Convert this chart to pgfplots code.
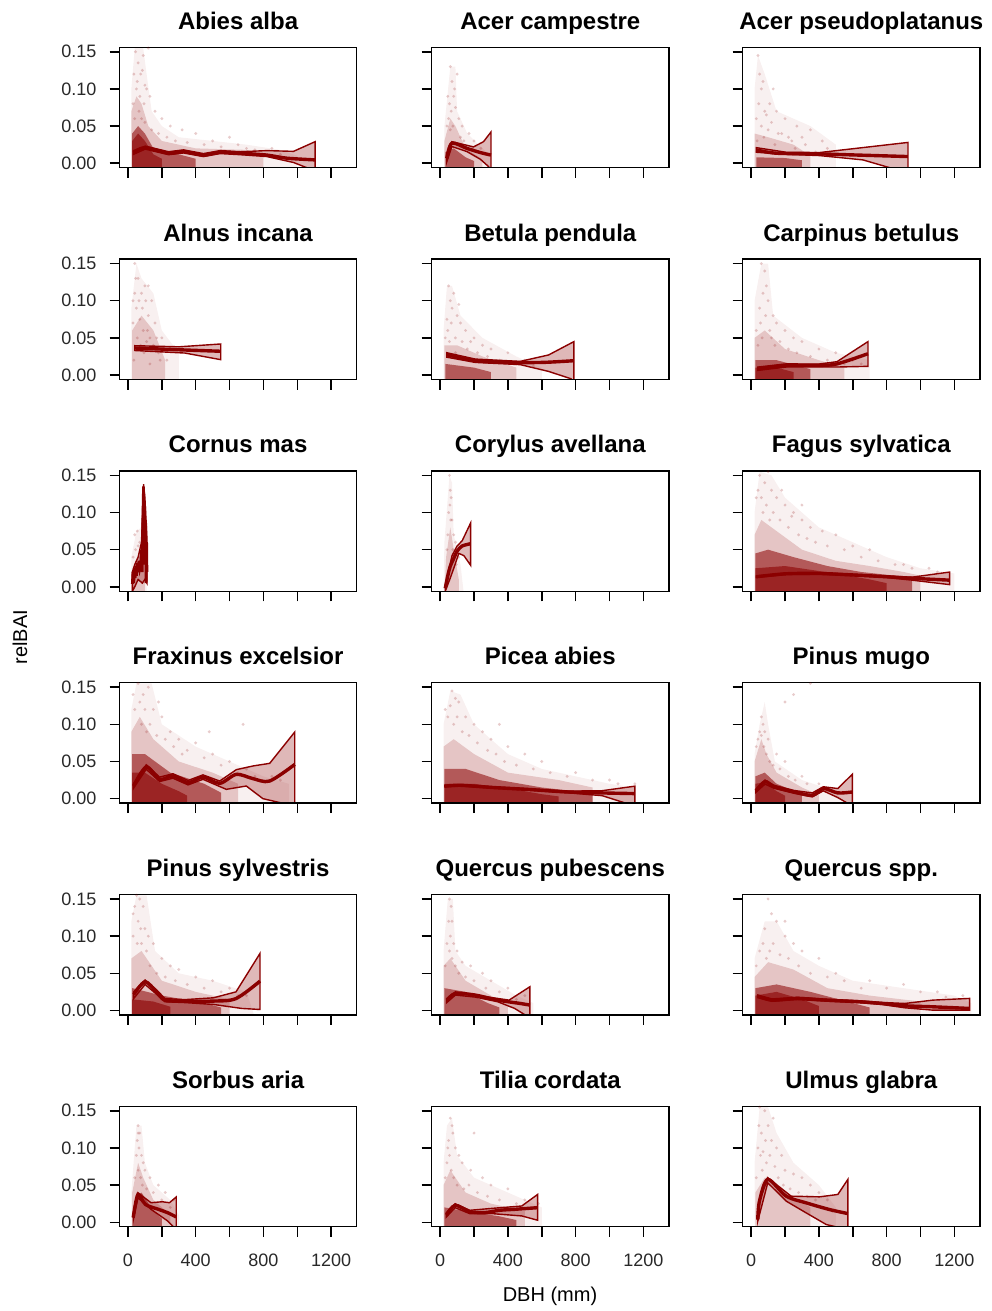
\documentclass[border=0pt]{standalone}
\usepackage{fontspec}
\setmainfont{Liberation Sans}
\usepackage{pgfplots}
\pgfplotsset{compat=1.18}
\definecolor{dred}{RGB}{139,0,0}
\definecolor{tickgray}{RGB}{40,40,40}

\pgfplotsset{
  panel/.style={
    scale only axis, width=118.6pt, height=60.2pt, anchor=south west,
    xmin=-50, xmax=1351, ymin=-0.006, ymax=0.156,
    tick pos=left, tick align=outside, major tick length=5pt,
    xtick={0,200,...,1200}, ytick={0,0.05,0.1,0.15},
    xticklabels={}, yticklabels={},
    axis line style={line width=0.75pt},
    every tick/.style={black, line width=0.75pt},
    tick label style={font=\fontsize{9}{10}\selectfont, text=tickgray},
    yticklabel style={xshift=-3pt},
    xticklabel style={yshift=-5pt},
    title style={font=\bfseries\fontsize{12}{13}\selectfont, at={(0.5,1)}, anchor=base, yshift=3pt},
    axis on top,
  },
  ylab/.style={yticklabels={0.00,0.05,0.10,0.15}},
  xlab/.style={xticklabels={0,,400,,800,,1200}},
  cloudA/.style={draw=none, fill=dred, fill opacity=0.06},
  cloudB/.style={draw=none, fill=dred, fill opacity=0.18},
  cloudC/.style={draw=none, fill=dred, fill opacity=0.55},
  cloudD/.style={draw=none, fill=dred, fill opacity=0.6},
  pts/.style={only marks, mark=*, mark size=0.8pt, color=dred, mark options={draw opacity=0, fill=dred, fill opacity=0.2}},
  band/.style={draw=dred, line width=0.7pt, fill=dred, fill opacity=0.28},
  mean/.style={draw=dred, line width=1.7pt, smooth},
}

\newcommand{\panel}[5]{%
  \begin{axis}[panel, at={(#1pt,#2pt)}, title={#3}, #4]
  #5
  \end{axis}}

\begin{document}
\begin{tikzpicture}
\useasboundingbox (0,0) rectangle (495.5pt,-655.5pt);

% row 1
\panel{59.75}{-83.85}{Abies alba}{ylab}{
  \addplot[cloudA] coordinates {(20,-0.01)(20,0.10)(40,0.155)(90,0.155)(110,0.12)(140,0.07)(200,0.05)(300,0.035)(500,0.03)(700,0.025)(900,0.018)(1000,0.01)(1000,-0.01)} -- cycle;
  \addplot[cloudB] coordinates {(20,-0.01)(20,0.07)(50,0.09)(80,0.08)(120,0.05)(200,0.03)(400,0.02)(700,0.018)(800,0.01)(800,-0.01)} -- cycle;
  \addplot[cloudC] coordinates {(25,-0.01)(25,0.04)(60,0.05)(100,0.04)(150,0.02)(300,0.012)(400,0.006)(400,-0.01)} -- cycle;
  \addplot[cloudD] coordinates {(25,-0.01)(25,0.03)(60,0.04)(100,0.03)(150,0.012)(200,0.006)(200,-0.01)} -- cycle;
  \addplot[pts] coordinates {(45,0.15)(60,0.135)(75,0.12)(90,0.145)(110,0.1)(130,0.09)(55,0.11)(160,0.07)(200,0.06)(250,0.05)(320,0.045)(400,0.04)(500,0.03)(600,0.035)(700,0.02)(850,0.02)(120,0.155)(85,0.125)
    (30,0.08)(40,0.06)(50,0.1)(65,0.07)(70,0.09)(80,0.06)(95,0.08)(100,0.055)(140,0.045)(180,0.04)(230,0.035)(280,0.03)(350,0.028)(450,0.025)(550,0.022)(650,0.025)(750,0.018)(900,0.012)(35,0.12)(100,0.105)};
  \addplot[band] coordinates {(33,0.017)(102,0.023)(240,0.0155)(328,0.018)(446,0.013)(545,0.017)(663,0.0155)(820,0.017)(978,0.016)(1105,0.029)(1105,-0.01)(1056,-0.006)(978,0.001)(820,0.009)(663,0.0115)(545,0.013)(446,0.009)(328,0.0138)(240,0.0115)(102,0.019)(33,0.012)} -- cycle;
  \addplot[mean] coordinates {(33,0.0144)(102,0.021)(240,0.0135)(328,0.0158)(446,0.011)(545,0.015)(663,0.0135)(820,0.011)(938,0.0068)(1105,0.0045)};
}
\panel{215.85}{-83.85}{Acer campestre}{}{
  \addplot[cloudA] coordinates {(25,-0.01)(25,0.05)(60,0.13)(90,0.13)(100,0.07)(160,0.04)(250,0.02)(300,0.01)(300,-0.01)} -- cycle;
  \addplot[cloudB] coordinates {(25,-0.01)(25,0.03)(60,0.06)(90,0.05)(150,0.02)(250,0.005)(250,-0.01)} -- cycle;
  \addplot[cloudC] coordinates {(30,-0.01)(30,0.015)(80,0.02)(150,0.008)(200,0.003)(200,-0.01)} -- cycle;
  \addplot[pts] coordinates {(60,0.13)(70,0.11)(80,0.09)(55,0.08)(90,0.075)(110,0.06)(130,0.05)(170,0.04)(200,0.03)(240,0.02)(100,0.12)
    (40,0.05)(50,0.06)(65,0.07)(75,0.05)(85,0.1)(45,0.09)(120,0.035)(140,0.03)(190,0.02)(60,0.045)};
  \addplot[band] coordinates {(39,0.009)(69,0.029)(197,0.022)(256,0.029)(300,0.042)(300,-0.01)(286,-0.0045)(237,0.0054)(158,0.0157)(69,0.0225)(39,0.002)} -- cycle;
  \addplot[mean] coordinates {(39,0.0067)(69,0.027)(158,0.020)(237,0.0144)(300,0.011)};
}
\panel{371.35}{-83.85}{Acer pseudoplatanus}{}{
  \addplot[cloudA] coordinates {(20,-0.01)(20,0.10)(40,0.145)(80,0.12)(150,0.07)(350,0.05)(500,0.025)(500,-0.01)} -- cycle;
  \addplot[cloudB] coordinates {(20,-0.01)(20,0.04)(100,0.035)(250,0.025)(350,0.01)(350,-0.01)} -- cycle;
  \addplot[cloudC] coordinates {(30,-0.01)(30,0.008)(200,0.007)(300,0.004)(300,-0.01)} -- cycle;
  \addplot[pts] coordinates {(40,0.145)(50,0.12)(70,0.11)(110,0.08)(150,0.07)(60,0.1)(200,0.06)(270,0.05)(350,0.045)(130,0.1)(90,0.065)(420,0.03)(300,0.035)(180,0.04)(240,0.03)
    (30,0.06)(45,0.08)(60,0.05)(80,0.07)(100,0.045)(120,0.055)(160,0.04)(220,0.035)(260,0.02)(320,0.025)(380,0.015)(450,0.02)(35,0.03)(75,0.035)(140,0.025)};
  \addplot[band] coordinates {(30,0.021)(207,0.0148)(404,0.0144)(926,0.028)(926,-0.01)(818,-0.006)(660,0.0045)(404,0.0103)(207,0.012)(30,0.0148)} -- cycle;
  \addplot[mean] coordinates {(30,0.018)(148,0.0135)(404,0.0126)(601,0.0112)(926,0.009)};
}

% row 2
\panel{59.75}{-189.75}{Alnus incana}{ylab}{
  \addplot[cloudA] coordinates {(20,-0.01)(20,0.09)(50,0.15)(80,0.13)(150,0.11)(200,0.06)(300,0.03)(300,-0.01)} -- cycle;
  \addplot[cloudB] coordinates {(25,-0.01)(25,0.06)(80,0.08)(150,0.06)(220,0.02)(220,-0.01)} -- cycle;
  \addplot[pts] coordinates {(40,0.15)(60,0.13)(80,0.11)(100,0.12)(50,0.09)(120,0.08)(140,0.1)(160,0.07)(90,0.06)(200,0.05)(70,0.075)(110,0.045)(30,0.07)(180,0.03)(230,0.02)
    (30,0.1)(40,0.11)(55,0.05)(65,0.1)(75,0.04)(85,0.09)(95,0.03)(105,0.1)(115,0.06)(130,0.05)(150,0.04)(170,0.05)(190,0.02)(210,0.035)(45,0.13)(120,0.12)(35,0.02)(130,0.015)};
  \addplot[band] coordinates {(40,0.0395)(302,0.038)(548,0.0418)(548,0.0207)(336,0.0296)(40,0.033)} -- cycle;
  \addplot[mean] coordinates {(40,0.0364)(302,0.034)(548,0.032)};
}
\panel{215.85}{-189.75}{Betula pendula}{}{
  \addplot[cloudA] coordinates {(20,-0.01)(20,0.06)(40,0.12)(70,0.12)(120,0.08)(250,0.05)(450,0.025)(600,0.01)(600,-0.01)} -- cycle;
  \addplot[cloudB] coordinates {(25,-0.01)(25,0.04)(100,0.04)(250,0.025)(450,0.01)(450,-0.01)} -- cycle;
  \addplot[cloudC] coordinates {(30,-0.01)(30,0.015)(200,0.01)(300,0.004)(300,-0.01)} -- cycle;
  \addplot[pts] coordinates {(50,0.12)(60,0.1)(80,0.11)(100,0.08)(120,0.07)(150,0.06)(200,0.05)(250,0.04)(300,0.035)(400,0.03)(500,0.02)(70,0.09)(40,0.075)(180,0.045)
    (30,0.05)(45,0.06)(55,0.045)(65,0.07)(90,0.05)(110,0.095)(130,0.045)(160,0.035)(220,0.03)(280,0.025)(350,0.02)(450,0.015)(550,0.012)(90,0.03)};
  \addplot[band] coordinates {(40,0.030)(207,0.0215)(473,0.0184)(640,0.027)(790,0.045)(790,-0.01)(773,-0.005)(640,0.0049)(473,0.014)(207,0.017)(40,0.024)} -- cycle;
  \addplot[mean] coordinates {(40,0.0274)(207,0.0193)(406,0.017)(606,0.017)(790,0.0193)};
}
\panel{371.35}{-189.75}{Carpinus betulus}{}{
  \addplot[cloudA] coordinates {(20,-0.01)(20,0.10)(60,0.15)(100,0.15)(130,0.08)(300,0.05)(500,0.03)(700,0.02)(700,-0.01)} -- cycle;
  \addplot[cloudB] coordinates {(20,-0.01)(20,0.05)(80,0.06)(200,0.035)(400,0.02)(550,0.01)(550,-0.01)} -- cycle;
  \addplot[cloudC] coordinates {(25,-0.01)(25,0.02)(150,0.02)(350,0.008)(350,-0.01)} -- cycle;
  \addplot[cloudD] coordinates {(25,-0.01)(25,0.01)(150,0.01)(250,0.004)(250,-0.01)} -- cycle;
  \addplot[pts] coordinates {(60,0.15)(80,0.14)(90,0.12)(70,0.11)(100,0.1)(130,0.08)(150,0.07)(200,0.06)(250,0.05)(300,0.045)(400,0.035)(500,0.03)(600,0.02)(50,0.09)
    (30,0.06)(40,0.04)(55,0.07)(65,0.05)(85,0.08)(110,0.06)(120,0.05)(140,0.04)(170,0.045)(220,0.035)(270,0.03)(350,0.025)(450,0.02)(550,0.015)(650,0.015)};
  \addplot[band] coordinates {(40,0.0108)(207,0.015)(400,0.0148)(507,0.018)(690,0.045)(690,0.0117)(507,0.0108)(400,0.0108)(207,0.0108)(40,0.0063)} -- cycle;
  \addplot[mean] coordinates {(40,0.008)(207,0.013)(400,0.013)(507,0.015)(690,0.0287)};
}

% row 3
\panel{59.75}{-295.65}{Cornus mas}{ylab}{
  \addplot[cloudA] coordinates {(20,-0.01)(20,0.04)(50,0.075)(80,0.08)(110,0.06)(110,-0.01)} -- cycle;
  \addplot[cloudB] coordinates {(22,-0.01)(22,0.02)(60,0.04)(100,0.04)(100,-0.01)} -- cycle;
  \addplot[pts] coordinates {(40,0.07)(55,0.075)(70,0.06)(85,0.08)(30,0.04)(100,0.05)(45,0.05)(60,0.055)(75,0.045)};
  \addplot[band] coordinates {(26,0.02)(40,0.03)(60,0.04)(80,0.06)(92,0.138)(100,0.12)(112,0.065)(112,0.005)(100,0.01)(85,0.005)(60,0.01)(40,0.0)(26,-0.006)} -- cycle;
  \addplot[draw=dred, line width=1.4pt] coordinates {(26,0.004)(30,0.02)(34,0.005)(38,0.025)(42,0.012)(46,0.028)(50,0.015)(55,0.032)(60,0.02)(65,0.035)(70,0.025)(75,0.03)(80,0.05)(84,0.02)(88,0.09)(92,0.135)(95,0.06)(98,0.115)(101,0.03)(104,0.09)(107,0.005)(110,0.06)(112,0.02)};
}
\panel{215.85}{-295.65}{Corylus avellana}{}{
  \addplot[cloudA] coordinates {(20,-0.01)(25,0.06)(55,0.15)(70,0.14)(80,0.07)(120,0.03)(140,-0.01)} -- cycle;
  \addplot[cloudB] coordinates {(25,-0.01)(35,0.04)(60,0.08)(80,0.05)(110,0.01)(110,-0.01)} -- cycle;
  \addplot[pts] coordinates {(55,0.15)(60,0.13)(65,0.12)(50,0.1)(70,0.09)(80,0.07)(90,0.06)(110,0.04)(40,0.05)(45,0.07)(58,0.11)(62,0.09)(75,0.05)(95,0.03)};
  \addplot[band] coordinates {(30,0.002)(50,0.022)(70,0.042)(100,0.055)(130,0.062)(180,0.086)(180,0.029)(140,0.042)(110,0.045)(85,0.028)(60,0.012)(30,-0.006)} -- cycle;
  \addplot[mean] coordinates {(30,-0.002)(45,0.015)(60,0.028)(80,0.038)(100,0.048)(130,0.055)(180,0.058)};
}
\panel{371.35}{-295.65}{Fagus sylvatica}{}{
  \addplot[cloudA] coordinates {(20,-0.01)(20,0.10)(50,0.155)(120,0.15)(200,0.12)(400,0.08)(600,0.06)(800,0.04)(1000,0.025)(1200,0.018)(1200,-0.01)} -- cycle;
  \addplot[cloudB] coordinates {(20,-0.01)(20,0.07)(60,0.09)(150,0.075)(300,0.05)(500,0.035)(700,0.028)(900,0.02)(1000,0.015)(1000,-0.01)} -- cycle;
  \addplot[cloudC] coordinates {(25,-0.01)(25,0.045)(100,0.05)(250,0.04)(450,0.028)(650,0.02)(850,0.015)(950,0.008)(950,-0.01)} -- cycle;
  \addplot[cloudD] coordinates {(25,-0.01)(25,0.025)(200,0.028)(500,0.018)(700,0.01)(800,0.005)(800,-0.01)} -- cycle;
  \addplot[pts] coordinates {(50,0.15)(80,0.14)(120,0.13)(150,0.12)(200,0.11)(250,0.1)(300,0.09)(350,0.08)(420,0.075)(500,0.07)(600,0.055)(700,0.05)(900,0.03)(1050,0.025)(100,0.155)
    (30,0.12)(40,0.13)(60,0.12)(70,0.1)(90,0.11)(110,0.09)(130,0.1)(170,0.09)(220,0.08)(280,0.07)(330,0.065)(380,0.06)(450,0.055)(550,0.05)(650,0.04)(750,0.035)(850,0.03)(950,0.025)(1100,0.02)(180,0.13)(240,0.095)(300,0.11)};
  \addplot[band] coordinates {(30,0.0146)(207,0.0186)(404,0.019)(601,0.017)(798,0.0146)(950,0.013)(1172,0.0199)(1172,0.003)(950,0.009)(798,0.0126)(601,0.015)(404,0.017)(207,0.0166)(30,0.0126)} -- cycle;
  \addplot[mean] coordinates {(30,0.0136)(207,0.0176)(404,0.018)(601,0.016)(798,0.0136)(995,0.011)(1172,0.009)};
}

% row 4
\panel{59.75}{-401.55}{Fraxinus excelsior}{ylab}{
  \addplot[cloudA] coordinates {(20,-0.01)(20,0.12)(50,0.155)(140,0.155)(200,0.1)(400,0.07)(600,0.05)(800,0.03)(950,0.02)(950,-0.01)} -- cycle;
  \addplot[cloudB] coordinates {(20,-0.01)(20,0.09)(70,0.11)(150,0.08)(300,0.05)(500,0.035)(650,0.02)(650,-0.01)} -- cycle;
  \addplot[cloudC] coordinates {(25,-0.01)(25,0.06)(100,0.06)(250,0.035)(450,0.02)(550,0.008)(550,-0.01)} -- cycle;
  \addplot[cloudD] coordinates {(25,-0.01)(25,0.035)(100,0.035)(200,0.02)(300,0.01)(350,0.004)(350,-0.01)} -- cycle;
  \addplot[pts] coordinates {(60,0.155)(90,0.14)(120,0.15)(150,0.12)(200,0.11)(250,0.09)(300,0.08)(400,0.075)(500,0.06)(600,0.05)(680,0.1)(700,0.04)(850,0.03)(180,0.13)
    (30,0.14)(40,0.12)(70,0.13)(80,0.1)(100,0.12)(110,0.09)(130,0.1)(170,0.085)(220,0.08)(270,0.07)(320,0.06)(350,0.065)(450,0.055)(550,0.045)(650,0.035)(750,0.03)(900,0.025)(480,0.09)};
  \addplot[band] coordinates {(33,0.02)(108,0.0456)(187,0.029)(266,0.0335)(355,0.0245)(443,0.032)(542,0.0237)(640,0.039)(739,0.044)(837,0.0475)(985,0.0896)(985,-0.01)(797,0.0)(699,0.017)(581,0.0125)(443,0.026)(355,0.0185)(266,0.0275)(187,0.023)(108,0.0396)(33,0.014)} -- cycle;
  \addplot[mean] coordinates {(33,0.017)(108,0.0426)(187,0.026)(266,0.0305)(355,0.0215)(443,0.029)(542,0.0206)(640,0.0327)(739,0.0269)(837,0.0237)(985,0.046)};
}
\panel{215.85}{-401.55}{Picea abies}{}{
  \addplot[cloudA] coordinates {(20,-0.01)(20,0.10)(60,0.145)(120,0.14)(200,0.10)(400,0.06)(600,0.04)(800,0.03)(1000,0.02)(1150,0.015)(1150,-0.01)} -- cycle;
  \addplot[cloudB] coordinates {(20,-0.01)(20,0.07)(80,0.08)(200,0.06)(400,0.035)(700,0.025)(900,0.015)(900,-0.01)} -- cycle;
  \addplot[cloudC] coordinates {(25,-0.01)(25,0.04)(150,0.04)(350,0.025)(600,0.015)(800,0.01)(900,0.005)(900,-0.01)} -- cycle;
  \addplot[cloudD] coordinates {(25,-0.01)(25,0.02)(200,0.02)(450,0.012)(600,0.006)(700,0.003)(700,-0.01)} -- cycle;
  \addplot[pts] coordinates {(70,0.145)(90,0.135)(110,0.13)(150,0.11)(200,0.1)(250,0.09)(300,0.08)(400,0.07)(500,0.06)(600,0.05)(800,0.035)(1000,0.025)(1150,0.02)(350,0.1)
    (30,0.12)(45,0.11)(60,0.125)(80,0.1)(100,0.11)(130,0.09)(170,0.085)(220,0.075)(280,0.065)(330,0.06)(380,0.05)(450,0.045)(550,0.04)(650,0.035)(750,0.03)(900,0.025)(1050,0.02)};
  \addplot[band] coordinates {(28,0.0178)(118,0.019)(312,0.016)(527,0.0133)(742,0.0101)(957,0.0107)(1150,0.0168)(1150,-0.01)(957,0.004)(742,0.0081)(527,0.0113)(312,0.014)(118,0.017)(28,0.0158)} -- cycle;
  \addplot[mean] coordinates {(28,0.0168)(118,0.018)(312,0.015)(527,0.0123)(742,0.0091)(957,0.0077)(1150,0.0068)};
}
\panel{371.35}{-401.55}{Pinus mugo}{}{
  \addplot[cloudA] coordinates {(20,-0.01)(20,0.06)(50,0.1)(80,0.13)(100,0.1)(140,0.05)(300,0.025)(500,0.01)(550,-0.01)} -- cycle;
  \addplot[cloudB] coordinates {(20,-0.01)(20,0.05)(60,0.08)(90,0.06)(150,0.035)(300,0.015)(400,0.005)(400,-0.01)} -- cycle;
  \addplot[cloudC] coordinates {(25,-0.01)(25,0.03)(80,0.035)(150,0.02)(300,0.006)(300,-0.01)} -- cycle;
  \addplot[cloudD] coordinates {(25,-0.01)(25,0.02)(80,0.022)(150,0.01)(200,0.004)(200,-0.01)} -- cycle;
  \addplot[pts] coordinates {(60,0.11)(70,0.1)(80,0.09)(100,0.08)(150,0.06)(200,0.05)(300,0.03)(400,0.02)(350,0.155)(200,0.13)(250,0.14)
    (30,0.07)(40,0.08)(50,0.09)(60,0.085)(75,0.07)(90,0.06)(110,0.05)(130,0.045)(170,0.04)(220,0.03)(260,0.025)(330,0.02)(450,0.01)};
  \addplot[band] coordinates {(28,0.0125)(82,0.025)(135,0.018)(254,0.011)(361,0.0077)(426,0.016)(512,0.0136)(598,0.033)(598,-0.01)(512,0.0014)(426,0.0105)(361,0.0023)(254,0.0072)(135,0.014)(82,0.0196)(28,0.0085)} -- cycle;
  \addplot[mean] coordinates {(28,0.0105)(82,0.023)(135,0.016)(254,0.0091)(361,0.0045)(426,0.0136)(512,0.0077)(598,0.009)};
}

% row 5
\panel{59.75}{-507.45}{Pinus sylvestris}{ylab}{
  \addplot[cloudA] coordinates {(20,-0.01)(20,0.12)(50,0.155)(110,0.155)(160,0.08)(300,0.05)(500,0.04)(700,0.025)(750,-0.01)} -- cycle;
  \addplot[cloudB] coordinates {(20,-0.01)(20,0.07)(80,0.08)(200,0.04)(400,0.025)(600,0.015)(600,-0.01)} -- cycle;
  \addplot[cloudC] coordinates {(25,-0.01)(25,0.03)(200,0.02)(450,0.01)(550,0.004)(550,-0.01)} -- cycle;
  \addplot[cloudD] coordinates {(25,-0.01)(25,0.015)(150,0.012)(250,0.005)(250,-0.01)} -- cycle;
  \addplot[pts] coordinates {(50,0.155)(70,0.15)(90,0.14)(60,0.12)(100,0.11)(120,0.1)(150,0.09)(200,0.07)(250,0.06)(300,0.055)(400,0.045)(500,0.04)(600,0.03)(700,0.02)(30,0.1)
    (30,0.13)(40,0.14)(55,0.09)(75,0.11)(80,0.09)(110,0.08)(130,0.06)(170,0.05)(220,0.045)(280,0.04)(350,0.035)(450,0.03)(550,0.025)(650,0.02)};
  \addplot[band] coordinates {(34,0.025)(101,0.041)(168,0.028)(218,0.016)(336,0.0146)(504,0.017)(638,0.025)(780,0.0768)(780,0.0013)(672,0.0027)(504,0.0081)(336,0.0106)(218,0.0117)(168,0.022)(101,0.035)(34,0.016)} -- cycle;
  \addplot[mean] coordinates {(34,0.0216)(101,0.0386)(168,0.025)(218,0.0139)(336,0.0126)(504,0.0126)(638,0.016)(780,0.0395)};
}
\panel{215.85}{-507.45}{Quercus pubescens}{}{
  \addplot[cloudA] coordinates {(20,-0.01)(20,0.08)(45,0.15)(75,0.15)(90,0.08)(150,0.06)(300,0.04)(450,0.02)(550,0.01)(550,-0.01)} -- cycle;
  \addplot[cloudB] coordinates {(20,-0.01)(20,0.06)(60,0.07)(150,0.04)(300,0.02)(400,0.005)(400,-0.01)} -- cycle;
  \addplot[cloudC] coordinates {(25,-0.01)(25,0.03)(150,0.025)(280,0.01)(350,0.004)(350,-0.01)} -- cycle;
  \addplot[pts] coordinates {(55,0.15)(65,0.14)(70,0.12)(60,0.1)(80,0.09)(100,0.08)(130,0.065)(180,0.06)(250,0.05)(300,0.04)(400,0.03)(500,0.02)
    (30,0.06)(40,0.09)(50,0.12)(55,0.08)(70,0.07)(90,0.06)(110,0.05)(150,0.045)(200,0.04)(270,0.03)(350,0.025)(450,0.015)};
  \addplot[band] coordinates {(40,0.016)(90,0.025)(273,0.0184)(407,0.0139)(530,0.0319)(530,-0.01)(440,0.0027)(340,0.0117)(207,0.018)(90,0.0207)(40,0.0108)} -- cycle;
  \addplot[mean] coordinates {(40,0.0139)(90,0.0229)(207,0.0207)(340,0.0139)(473,0.0094)(530,0.0072)};
}
\panel{371.35}{-507.45}{Quercus spp.}{}{
  \addplot[cloudA] coordinates {(20,-0.01)(20,0.07)(80,0.12)(150,0.12)(250,0.08)(400,0.06)(600,0.04)(900,0.03)(1200,0.02)(1300,0.01)(1300,-0.01)} -- cycle;
  \addplot[cloudB] coordinates {(20,-0.01)(20,0.045)(100,0.065)(250,0.055)(450,0.03)(700,0.02)(1000,0.012)(1000,-0.01)} -- cycle;
  \addplot[cloudC] coordinates {(25,-0.01)(25,0.03)(150,0.035)(350,0.025)(600,0.01)(700,0.004)(700,-0.01)} -- cycle;
  \addplot[cloudD] coordinates {(25,-0.01)(25,0.02)(150,0.025)(300,0.015)(400,0.006)(400,-0.01)} -- cycle;
  \addplot[pts] coordinates {(100,0.15)(120,0.13)(150,0.12)(200,0.1)(300,0.08)(250,0.09)(400,0.07)(500,0.05)(700,0.04)(900,0.035)(1100,0.025)(1250,0.02)(80,0.11)
    (30,0.06)(50,0.08)(70,0.09)(90,0.07)(110,0.08)(130,0.09)(170,0.075)(220,0.07)(280,0.06)(350,0.05)(450,0.045)(550,0.04)(650,0.03)(800,0.03)(1000,0.025)(1150,0.018)(200,0.12)};
  \addplot[band] coordinates {(40,0.0207)(123,0.0155)(273,0.0177)(440,0.0152)(640,0.013)(773,0.0108)(907,0.0094)(1073,0.0139)(1290,0.0162)(1290,0.0004)(1073,0.0004)(907,0.0036)(773,0.008)(640,0.0104)(440,0.0126)(273,0.0147)(123,0.0123)(40,0.0171)} -- cycle;
  \addplot[mean] coordinates {(40,0.0193)(123,0.0139)(273,0.0162)(440,0.0139)(640,0.0117)(773,0.0094)(907,0.0063)(1073,0.0049)(1290,0.0027)};
}

% row 6
\panel{59.75}{-613.35}{Sorbus aria}{ylab,xlab}{
  \addplot[cloudA] coordinates {(20,-0.01)(20,0.04)(50,0.13)(80,0.13)(100,0.08)(150,0.05)(250,0.03)(300,0.01)(300,-0.01)} -- cycle;
  \addplot[cloudB] coordinates {(25,-0.01)(25,0.04)(60,0.08)(90,0.06)(150,0.03)(250,0.01)(250,-0.01)} -- cycle;
  \addplot[cloudC] coordinates {(30,-0.01)(30,0.02)(80,0.04)(150,0.015)(200,0.005)(200,-0.01)} -- cycle;
  \addplot[pts] coordinates {(60,0.13)(70,0.12)(65,0.1)(80,0.09)(90,0.08)(100,0.07)(130,0.06)(180,0.05)(220,0.04)(270,0.03)
    (40,0.06)(50,0.09)(55,0.11)(60,0.07)(75,0.06)(85,0.05)(110,0.045)(150,0.04)(200,0.03)(250,0.02)(60,0.12)};
  \addplot[band] coordinates {(31,0.0107)(59,0.0397)(136,0.0263)(202,0.0276)(245,0.0263)(285,0.034)(285,-0.01)(234,0.0018)(136,0.0174)(59,0.033)(31,0.0027)} -- cycle;
  \addplot[mean] coordinates {(31,0.0062)(59,0.0375)(103,0.024)(180,0.0174)(234,0.0129)(285,0.0071)};
}
\panel{215.85}{-613.35}{Tilia cordata}{xlab}{
  \addplot[cloudA] coordinates {(20,-0.01)(20,0.08)(40,0.13)(70,0.14)(100,0.09)(200,0.06)(400,0.04)(600,0.02)(600,-0.01)} -- cycle;
  \addplot[cloudB] coordinates {(20,-0.01)(20,0.05)(60,0.07)(150,0.04)(300,0.025)(500,0.015)(500,-0.01)} -- cycle;
  \addplot[cloudC] coordinates {(25,-0.01)(25,0.02)(150,0.015)(350,0.008)(450,0.003)(450,-0.01)} -- cycle;
  \addplot[pts] coordinates {(60,0.14)(70,0.13)(50,0.11)(90,0.1)(110,0.09)(130,0.08)(180,0.07)(250,0.06)(300,0.05)(400,0.045)(500,0.03)(580,0.025)(200,0.12)
    (30,0.06)(40,0.08)(45,0.1)(55,0.09)(65,0.07)(80,0.06)(100,0.05)(140,0.045)(170,0.05)(220,0.04)(280,0.035)(350,0.03)(450,0.025)(550,0.02)(75,0.12)};
  \addplot[band] coordinates {(37,0.013)(88,0.025)(175,0.0161)(307,0.0187)(482,0.0219)(576,0.0375)(576,0.0027)(482,0.0085)(307,0.0116)(175,0.0116)(88,0.0196)(37,0.0071)} -- cycle;
  \addplot[mean] coordinates {(37,0.0098)(88,0.0228)(175,0.0143)(263,0.013)(350,0.0161)(438,0.0174)(576,0.0196)};
}
\panel{371.35}{-613.35}{Ulmus glabra}{xlab}{
  \addplot[cloudA] coordinates {(20,-0.01)(20,0.08)(50,0.155)(100,0.155)(150,0.12)(250,0.08)(400,0.05)(500,0.02)(500,-0.01)} -- cycle;
  \addplot[cloudB] coordinates {(25,-0.01)(25,0.04)(80,0.06)(200,0.04)(350,0.02)(350,-0.01)} -- cycle;
  \addplot[pts] coordinates {(50,0.155)(80,0.15)(100,0.13)(60,0.12)(120,0.11)(150,0.1)(180,0.09)(90,0.08)(200,0.07)(250,0.065)(300,0.06)(350,0.05)(400,0.04)(450,0.03)(130,0.14)(70,0.095)
    (30,0.06)(40,0.1)(45,0.13)(55,0.09)(65,0.07)(85,0.11)(95,0.06)(110,0.09)(140,0.075)(160,0.06)(190,0.05)(230,0.045)(280,0.04)(330,0.035)(380,0.03)(420,0.02)(480,0.015)(60,0.04)};
  \addplot[band] coordinates {(39,0.0216)(98,0.0599)(236,0.0351)(404,0.0342)(512,0.0374)(571,0.0576)(571,-0.01)(443,-0.003)(325,0.0126)(207,0.0284)(98,0.0531)(39,0.0014)} -- cycle;
  \addplot[mean] coordinates {(39,0.0036)(49,0.0284)(98,0.0576)(207,0.0351)(325,0.0261)(463,0.0171)(571,0.0117)};
}

\node[rotate=90, font=\fontsize{10}{12}\selectfont] at (10pt,-318.5pt) {relBAI};
\node[font=\fontsize{10}{12}\selectfont] at (275pt,-648pt) {DBH (mm)};
\end{tikzpicture}
\end{document}
